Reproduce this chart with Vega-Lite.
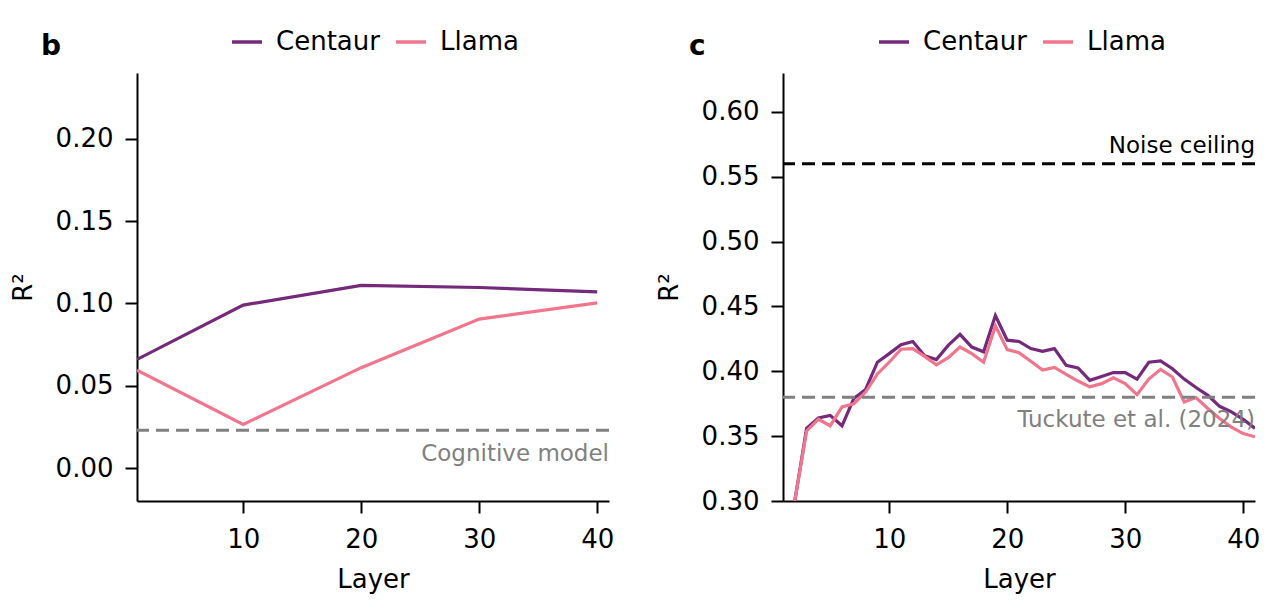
{
  "$schema": "https://vega.github.io/schema/vega-lite/v6.json",
  "autosize": {"type": "none"},
  "padding": {"left": 137, "top": 73, "right": 1143, "bottom": 528},
  "background": "white",
  "config": {
    "font": "DejaVu Sans",
    "view": {"stroke": null},
    "axis": {
      "grid": false,
      "domainColor": "black",
      "domainWidth": 2,
      "tickColor": "black",
      "tickWidth": 2,
      "tickSize": 12,
      "labelFont": "DejaVu Sans",
      "labelFontSize": 26,
      "labelColor": "black",
      "titleFont": "DejaVu Sans",
      "titleFontSize": 26,
      "titleFontWeight": "normal",
      "titleColor": "black"
    },
    "axisX": {"labelPadding": 13, "titlePadding": 14},
    "axisY": {"labelPadding": 12, "titlePadding": 19},
    "legend": {
      "orient": "none",
      "direction": "horizontal",
      "title": null,
      "symbolType": "stroke",
      "symbolSize": 900,
      "symbolStrokeWidth": 3.5,
      "labelFont": "DejaVu Sans",
      "labelFontSize": 26,
      "labelColor": "black",
      "labelOffset": 12,
      "columnPadding": 9
    },
    "title": {"font": "DejaVu Sans", "fontSize": 28, "fontWeight": "bold", "color": "black", "anchor": "start", "frame": "group"}
  },
  "datasets": {
    "b": [
      {"model": "Centaur", "layer": 1, "r2": 0.066},
      {"model": "Centaur", "layer": 10, "r2": 0.099},
      {"model": "Centaur", "layer": 20, "r2": 0.111},
      {"model": "Centaur", "layer": 30, "r2": 0.1097},
      {"model": "Centaur", "layer": 40, "r2": 0.107},
      {"model": "Llama", "layer": 1, "r2": 0.0595},
      {"model": "Llama", "layer": 10, "r2": 0.0265},
      {"model": "Llama", "layer": 20, "r2": 0.061},
      {"model": "Llama", "layer": 30, "r2": 0.0905},
      {"model": "Llama", "layer": 40, "r2": 0.1004}
    ],
    "c": [
      {"model": "Centaur", "layer": 2, "r2": 0.300},
      {"model": "Centaur", "layer": 3, "r2": 0.356},
      {"model": "Centaur", "layer": 4, "r2": 0.364},
      {"model": "Centaur", "layer": 5, "r2": 0.366},
      {"model": "Centaur", "layer": 6, "r2": 0.358},
      {"model": "Centaur", "layer": 7, "r2": 0.379},
      {"model": "Centaur", "layer": 8, "r2": 0.386},
      {"model": "Centaur", "layer": 9, "r2": 0.407},
      {"model": "Centaur", "layer": 10, "r2": 0.4136},
      {"model": "Centaur", "layer": 11, "r2": 0.4205},
      {"model": "Centaur", "layer": 12, "r2": 0.423},
      {"model": "Centaur", "layer": 13, "r2": 0.412},
      {"model": "Centaur", "layer": 14, "r2": 0.409},
      {"model": "Centaur", "layer": 15, "r2": 0.420},
      {"model": "Centaur", "layer": 16, "r2": 0.4285},
      {"model": "Centaur", "layer": 17, "r2": 0.4187},
      {"model": "Centaur", "layer": 18, "r2": 0.415},
      {"model": "Centaur", "layer": 19, "r2": 0.443},
      {"model": "Centaur", "layer": 20, "r2": 0.424},
      {"model": "Centaur", "layer": 21, "r2": 0.423},
      {"model": "Centaur", "layer": 22, "r2": 0.4175},
      {"model": "Centaur", "layer": 23, "r2": 0.4154},
      {"model": "Centaur", "layer": 24, "r2": 0.4175},
      {"model": "Centaur", "layer": 25, "r2": 0.4046},
      {"model": "Centaur", "layer": 26, "r2": 0.4026},
      {"model": "Centaur", "layer": 27, "r2": 0.393},
      {"model": "Centaur", "layer": 28, "r2": 0.396},
      {"model": "Centaur", "layer": 29, "r2": 0.399},
      {"model": "Centaur", "layer": 30, "r2": 0.399},
      {"model": "Centaur", "layer": 31, "r2": 0.394},
      {"model": "Centaur", "layer": 32, "r2": 0.407},
      {"model": "Centaur", "layer": 33, "r2": 0.408},
      {"model": "Centaur", "layer": 34, "r2": 0.402},
      {"model": "Centaur", "layer": 35, "r2": 0.394},
      {"model": "Centaur", "layer": 36, "r2": 0.3875},
      {"model": "Centaur", "layer": 37, "r2": 0.3815},
      {"model": "Centaur", "layer": 38, "r2": 0.373},
      {"model": "Centaur", "layer": 39, "r2": 0.3687},
      {"model": "Centaur", "layer": 40, "r2": 0.363},
      {"model": "Centaur", "layer": 41, "r2": 0.356},
      {"model": "Llama", "layer": 2, "r2": 0.300},
      {"model": "Llama", "layer": 3, "r2": 0.354},
      {"model": "Llama", "layer": 4, "r2": 0.363},
      {"model": "Llama", "layer": 5, "r2": 0.358},
      {"model": "Llama", "layer": 6, "r2": 0.3725},
      {"model": "Llama", "layer": 7, "r2": 0.375},
      {"model": "Llama", "layer": 8, "r2": 0.384},
      {"model": "Llama", "layer": 9, "r2": 0.398},
      {"model": "Llama", "layer": 10, "r2": 0.407},
      {"model": "Llama", "layer": 11, "r2": 0.417},
      {"model": "Llama", "layer": 12, "r2": 0.4175},
      {"model": "Llama", "layer": 13, "r2": 0.4115},
      {"model": "Llama", "layer": 14, "r2": 0.405},
      {"model": "Llama", "layer": 15, "r2": 0.4105},
      {"model": "Llama", "layer": 16, "r2": 0.4187},
      {"model": "Llama", "layer": 17, "r2": 0.4136},
      {"model": "Llama", "layer": 18, "r2": 0.407},
      {"model": "Llama", "layer": 19, "r2": 0.435},
      {"model": "Llama", "layer": 20, "r2": 0.4167},
      {"model": "Llama", "layer": 21, "r2": 0.4144},
      {"model": "Llama", "layer": 22, "r2": 0.4077},
      {"model": "Llama", "layer": 23, "r2": 0.401},
      {"model": "Llama", "layer": 24, "r2": 0.403},
      {"model": "Llama", "layer": 25, "r2": 0.3977},
      {"model": "Llama", "layer": 26, "r2": 0.3925},
      {"model": "Llama", "layer": 27, "r2": 0.388},
      {"model": "Llama", "layer": 28, "r2": 0.3905},
      {"model": "Llama", "layer": 29, "r2": 0.395},
      {"model": "Llama", "layer": 30, "r2": 0.3905},
      {"model": "Llama", "layer": 31, "r2": 0.382},
      {"model": "Llama", "layer": 32, "r2": 0.394},
      {"model": "Llama", "layer": 33, "r2": 0.4015},
      {"model": "Llama", "layer": 34, "r2": 0.3956},
      {"model": "Llama", "layer": 35, "r2": 0.3764},
      {"model": "Llama", "layer": 36, "r2": 0.3798},
      {"model": "Llama", "layer": 37, "r2": 0.3713},
      {"model": "Llama", "layer": 38, "r2": 0.3636},
      {"model": "Llama", "layer": 39, "r2": 0.357},
      {"model": "Llama", "layer": 40, "r2": 0.352},
      {"model": "Llama", "layer": 41, "r2": 0.3495}
    ]
  },
  "bounds": "flush",
  "spacing": 174,
  "resolve": {"scale": {"color": "independent", "y": "independent", "x": "independent"}, "legend": {"color": "independent"}},
  "hconcat": [
    {
      "width": 472,
      "height": 428,
      "title": {"text": "b", "dx": -96, "dy": 40},
      "layer": [
        {
          "data": {"name": "b"},
          "mark": {"type": "line", "strokeWidth": 3.2, "clip": true},
          "encoding": {
            "x": {"field": "layer", "type": "quantitative", "scale": {"domain": [1, 41], "nice": false, "zero": false}, "axis": {"values": [10, 20, 30, 40], "title": "Layer"}},
            "y": {"field": "r2", "type": "quantitative", "scale": {"domain": [-0.02, 0.24], "nice": false, "zero": false}, "axis": {"values": [0, 0.05, 0.1, 0.15, 0.2], "format": ".2f", "title": "R²"}},
            "color": {"field": "model", "type": "nominal", "scale": {"domain": ["Centaur", "Llama"], "range": ["#74297a", "#f1758c"]}, "legend": {"legendX": 93, "legendY": -48}}
          }
        },
        {
          "data": {"values": [{"label": "Cognitive model", "r2": 0.023}]},
          "mark": {"type": "rule", "stroke": "#808080", "strokeWidth": 3, "strokeDash": [13, 7]},
          "encoding": {"y": {"field": "r2", "type": "quantitative"}}
        },
        {
          "data": {"values": [{"label": "Cognitive model", "r2": 0.023}]},
          "mark": {"type": "text", "align": "right", "baseline": "alphabetic", "dy": 31, "fontSize": 23, "color": "#808080", "font": "DejaVu Sans"},
          "encoding": {"x": {"datum": 41}, "y": {"field": "r2", "type": "quantitative"}, "text": {"field": "label"}}
        }
      ]
    },
    {
      "width": 472,
      "height": 428,
      "title": {"text": "c", "dx": -94, "dy": 40},
      "layer": [
        {
          "data": {"name": "c"},
          "mark": {"type": "line", "strokeWidth": 3.2, "clip": true},
          "encoding": {
            "x": {"field": "layer", "type": "quantitative", "scale": {"domain": [1, 41], "nice": false, "zero": false}, "axis": {"values": [10, 20, 30, 40], "title": "Layer"}},
            "y": {"field": "r2", "type": "quantitative", "scale": {"domain": [0.30, 0.63], "nice": false, "zero": false}, "axis": {"values": [0.3, 0.35, 0.4, 0.45, 0.5, 0.55, 0.6], "format": ".2f", "title": "R²"}},
            "color": {"field": "model", "type": "nominal", "scale": {"domain": ["Centaur", "Llama"], "range": ["#74297a", "#f1758c"]}, "legend": {"legendX": 94, "legendY": -48}}
          }
        },
        {
          "data": {"values": [{"label": "Noise ceiling", "r2": 0.56}]},
          "mark": {"type": "rule", "stroke": "black", "strokeWidth": 3, "strokeDash": [13, 7]},
          "encoding": {"y": {"field": "r2", "type": "quantitative"}}
        },
        {
          "data": {"values": [{"label": "Noise ceiling", "r2": 0.56}]},
          "mark": {"type": "text", "align": "right", "baseline": "alphabetic", "dy": -11, "fontSize": 23, "color": "black", "font": "DejaVu Sans"},
          "encoding": {"x": {"datum": 41}, "y": {"field": "r2", "type": "quantitative"}, "text": {"field": "label"}}
        },
        {
          "data": {"values": [{"label": "Tuckute et al. (2024)", "r2": 0.38}]},
          "mark": {"type": "rule", "stroke": "#808080", "strokeWidth": 3, "strokeDash": [13, 7]},
          "encoding": {"y": {"field": "r2", "type": "quantitative"}}
        },
        {
          "data": {"values": [{"label": "Tuckute et al. (2024)", "r2": 0.38}]},
          "mark": {"type": "text", "align": "right", "baseline": "alphabetic", "dy": 30, "fontSize": 23, "color": "#808080", "font": "DejaVu Sans"},
          "encoding": {"x": {"datum": 41}, "y": {"field": "r2", "type": "quantitative"}, "text": {"field": "label"}}
        }
      ]
    }
  ]
}
